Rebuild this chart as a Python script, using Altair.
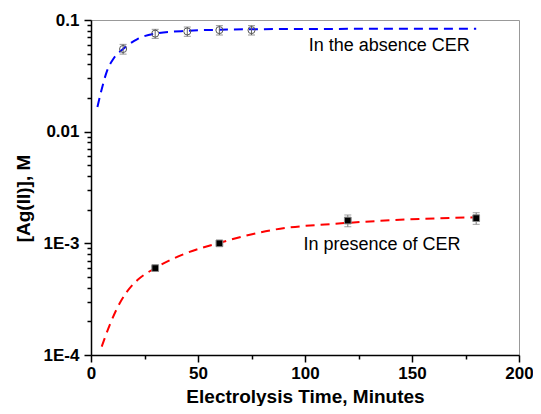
import altair as alt
import pandas as pd

# Measured points: in the absence of CER (open circles)
blue_t = [15, 30, 45, 60, 75]
blue_c = [0.0550, 0.0755, 0.0790, 0.0812, 0.0812]
blue_err = [0.0055, 0.0070, 0.0075, 0.0078, 0.0078]

# Measured points: in presence of CER (filled squares)
red_t = [30, 60, 120, 180]
red_c = [0.000600, 0.00100, 0.00160, 0.00168]
red_err = [0.00002, 0.00002, 0.00019, 0.00020]

# Fitted curves
blue_fit_t = [3, 5, 7.5, 10.5, 15, 21.7, 30, 45, 60, 90, 120, 150, 180]
blue_fit_c = [0.0166, 0.0240, 0.0350, 0.0450, 0.0550, 0.0675, 0.0755, 0.0800,
              0.0818, 0.0830, 0.0833, 0.0835, 0.0835]
red_fit_t = [5, 9, 13.8, 19.4, 21.7, 30, 44, 60, 85, 117, 149, 180]
red_fit_c = [0.000119, 0.000191, 0.000300, 0.000424, 0.000469, 0.000600,
             0.000810, 0.00101, 0.00132, 0.00151, 0.00164, 0.00171]

# Annotations
label_text = ["In the absence CER", "In presence of CER"]
label_t = [101.7, 99.3]
label_c = [0.0525, 0.000874]

# Axis ticks
y_major = [0.0001, 0.001, 0.01, 0.1]
y_major_labels = ["1E-4", "1E-3", "0.01", "0.1"]
y_minor = [m * d for d in [0.0001, 0.001, 0.01] for m in range(2, 10)]
x_ticks = [0, 25, 50, 75, 100, 125, 150, 175, 200]

FONT = "Liberation Sans"
W, H = 428, 335

blue_pts = pd.DataFrame({"t": blue_t, "c": blue_c,
                         "lo": [c - e for c, e in zip(blue_c, blue_err)],
                         "hi": [c + e for c, e in zip(blue_c, blue_err)]})
red_pts = pd.DataFrame({"t": red_t, "c": red_c,
                        "lo": [c - e for c, e in zip(red_c, red_err)],
                        "hi": [c + e for c, e in zip(red_c, red_err)]})
blue_fit = pd.DataFrame({"t": blue_fit_t, "c": blue_fit_c})
red_fit = pd.DataFrame({"t": red_fit_t, "c": red_fit_c})
labels = pd.DataFrame({"t": label_t, "c": label_c, "txt": label_text})

major_test = "abs(log(datum.value)/LN10 - round(log(datum.value)/LN10)) < 0.001"
label_expr = ""
for v, l in zip(y_major, y_major_labels):
    label_expr += f"abs(datum.value/{v} - 1) < 0.001 ? '{l}' : "
label_expr += "''"

xscale = alt.Scale(domain=[0, 200], nice=False, zero=False)
yscale = alt.Scale(type="log", domain=[0.0001, 0.1], nice=False)

xaxis = alt.Axis(values=x_ticks,
                 labelExpr="datum.value % 50 == 0 ? datum.label : ''",
                 tickSize={"condition": {"test": "datum.value % 50 == 0", "value": 7}, "value": 4},
                 labelPadding=3, labelFlush=False, labelOverlap=False,
                 titleX=W / 2, titleY=47, titleBaseline="alphabetic", titleAlign="center")
yaxis = alt.Axis(values=sorted(y_major + y_minor), labelExpr=label_expr,
                 tickSize={"condition": {"test": major_test, "value": 7}, "value": 4},
                 labelPadding=5, labelFlush=False, labelOverlap=False,
                 titleAngle=270, titleX=-62, titleY=178, titleBaseline="alphabetic",
                 titleAlign="center")

X = alt.X("t:Q", scale=xscale, axis=xaxis, title="Electrolysis Time, Minutes")
Y = alt.Y("c:Q", scale=yscale, axis=yaxis, title="[Ag(II)], M")
YLO = alt.Y("lo:Q", scale=yscale, axis=yaxis, title="[Ag(II)], M")
YHI = alt.Y("hi:Q", scale=yscale, axis=yaxis, title="[Ag(II)], M")

blue_line = alt.Chart(blue_fit).mark_line(
    color="#0000ff", strokeDash=[9, 6], strokeWidth=2, interpolate="monotone"
).encode(x=X, y=Y)
red_line = alt.Chart(red_fit).mark_line(
    color="#ff0000", strokeDash=[9, 6], strokeWidth=2, interpolate="monotone"
).encode(x=X, y=Y)

blue_bar = alt.Chart(blue_pts).mark_rule(color="#666", strokeWidth=1).encode(x=X, y=YLO, y2="hi:Q")
blue_cap_lo = alt.Chart(blue_pts).mark_tick(color="#666", orient="horizontal", size=7, thickness=1).encode(x=X, y=YLO)
blue_cap_hi = alt.Chart(blue_pts).mark_tick(color="#666", orient="horizontal", size=7, thickness=1).encode(x=X, y=YHI)
red_bar = alt.Chart(red_pts).mark_rule(color="#777", strokeWidth=1).encode(x=X, y=YLO, y2="hi:Q")
red_cap_lo = alt.Chart(red_pts).mark_tick(color="#777", orient="horizontal", size=7, thickness=1).encode(x=X, y=YLO)
red_cap_hi = alt.Chart(red_pts).mark_tick(color="#777", orient="horizontal", size=7, thickness=1).encode(x=X, y=YHI)

blue_mark = alt.Chart(blue_pts).mark_point(
    shape="circle", filled=False, size=50, color="#555", strokeWidth=1, opacity=1
).encode(x=X, y=Y)
red_mark = alt.Chart(red_pts).mark_square(
    size=45, color="black", stroke="#888", strokeWidth=1, opacity=1
).encode(x=X, y=Y)

text = alt.Chart(labels).mark_text(
    align="left", baseline="alphabetic", font=FONT, fontSize=18, color="black"
).encode(x=X, y=Y, text="txt:N")

chart = alt.layer(
    blue_line, red_line, blue_bar, blue_cap_lo, blue_cap_hi,
    red_bar, red_cap_lo, red_cap_hi, blue_mark, red_mark, text
).properties(
    width=W, height=H,
    autosize=alt.AutoSizeParams(type="none"),
    padding={"left": 83, "top": 12, "right": 14, "bottom": 51},
    background="white",
).configure_view(
    stroke="#999", strokeWidth=1
).configure_axis(
    grid=False, domainColor="black", domainWidth=1.5, tickColor="black", tickWidth=1.5,
    labelFont=FONT, labelFontWeight="bold", labelFontSize=17, labelColor="black",
    titleFont=FONT, titleFontWeight="bold", titleFontSize=19, titleColor="black",
)

chart.save("out.html", embed_options={"renderer": "svg", "actions": False})
